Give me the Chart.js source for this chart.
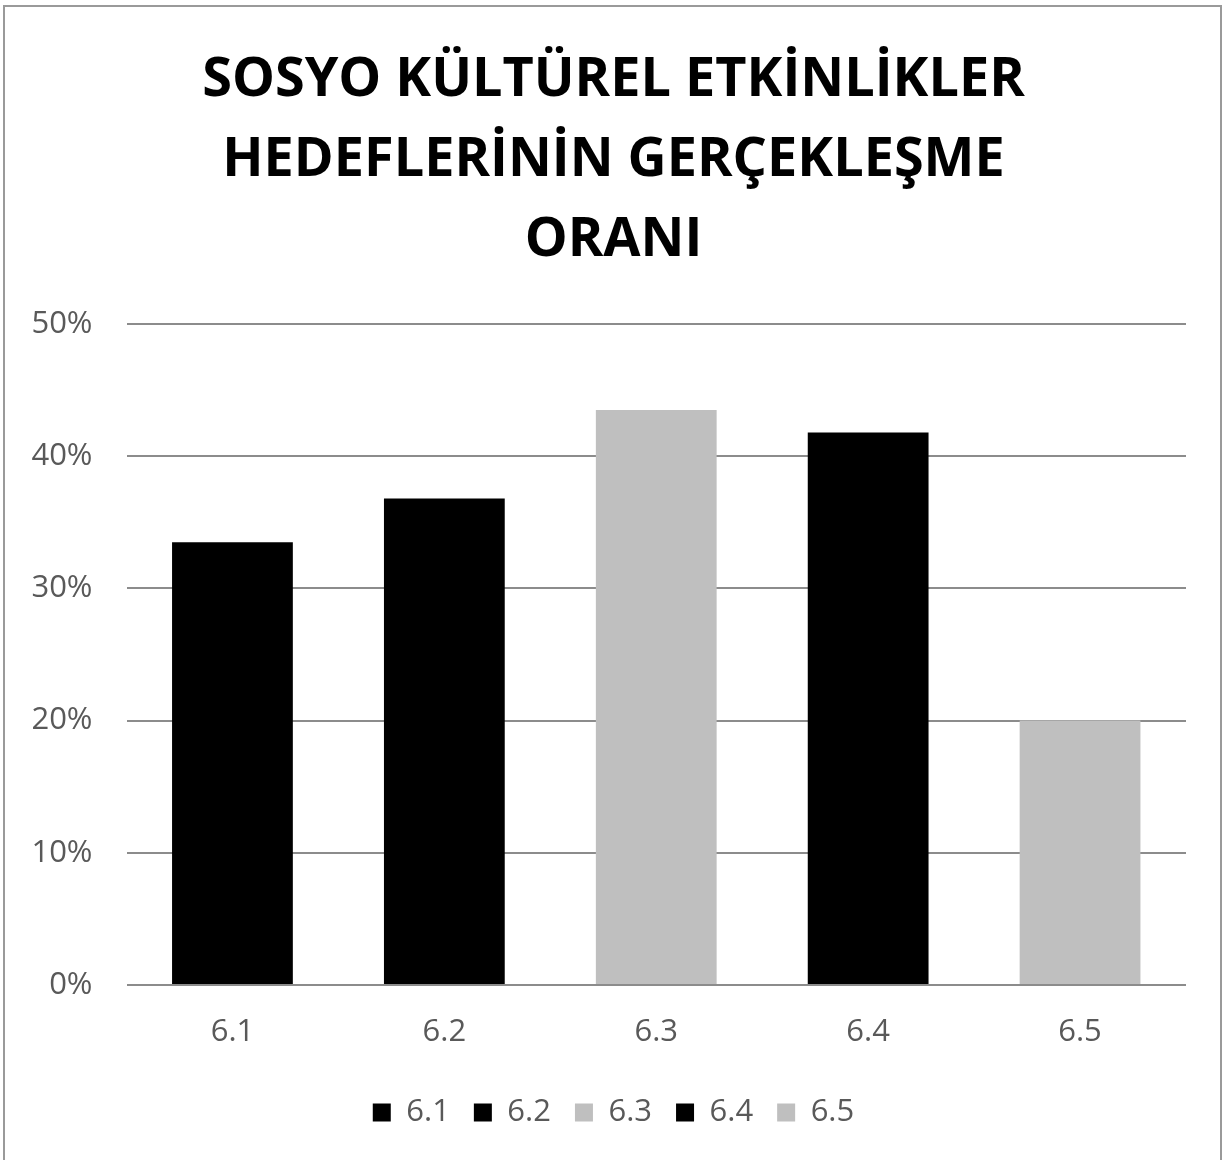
<!DOCTYPE html>
<html>
<head>
<meta charset="utf-8">
<script src="https://cdn.jsdelivr.net/npm/chart.js@4/dist/chart.umd.min.js"></script>
<style>
  html, body { margin: 0; padding: 0; background: #ffffff; }
  #wrap { position: relative; width: 1227px; height: 1160px; overflow: hidden; }
  #frame { position: absolute; left: 3px; top: 5px; width: 1219px; height: 1170px; border: 2px solid #9a9a9a; box-sizing: border-box; pointer-events: none; }
  canvas { position: absolute; left: 0; top: 0; }
</style>
</head>
<body>
<div id="wrap">
  <canvas id="c" width="1227" height="1160"></canvas>
  <div id="frame"></div>
</div>
<script>
const titleLines = ['SOSYO KÜLTÜREL ETKİNLİKLER', 'HEDEFLERİNİN GERÇEKLEŞME', 'ORANI'];
const categories = ['6.1', '6.2', '6.3', '6.4', '6.5'];
const values = [33.5, 36.8, 43.5, 41.8, 20];
const barColors = ['#000000', '#000000', '#BFBFBF', '#000000', '#BFBFBF'];
const yMin = 0, yMax = 50, yStep = 10;

const FONT = "'Open Sans', 'DejaVu Sans', sans-serif";
const TICK_COLOR = '#595959';

new Chart(document.getElementById('c'), {
  type: 'bar',
  data: {
    labels: categories,
    datasets: [{
      data: values,
      backgroundColor: barColors,
      borderWidth: 0,
      barPercentage: 0.57,
      categoryPercentage: 1.0
    }]
  },
  options: {
    responsive: false,
    animation: false,
    devicePixelRatio: 1,
    layout: { padding: { left: 0, right: 0, top: 12, bottom: 22 } },
    plugins: {
      tooltip: { enabled: false },
      title: {
        display: true,
        text: titleLines,
        color: '#000000',
        font: { family: FONT, size: 54, weight: 'bold', lineHeight: 80 / 54 },
        padding: { top: 29, bottom: 43 }
      },
      legend: {
        display: true,
        position: 'bottom',
        labels: {
          color: TICK_COLOR,
          font: { family: FONT, size: 31 },
          boxWidth: 18,
          boxHeight: 18,
          padding: 24,
          generateLabels: (chart) => categories.map((c, i) => ({
            text: c,
            fillStyle: barColors[i],
            strokeStyle: barColors[i],
            lineWidth: 0,
            fontColor: TICK_COLOR,
            hidden: false,
            index: i
          }))
        },
        onClick: () => {}
      }
    },
    scales: {
      x: {
        afterFit: (s) => { s.height = 88; },
        grid: { display: false, drawTicks: false },
        border: { display: false },
        ticks: { color: TICK_COLOR, font: { family: FONT, size: 31 }, padding: 29 }
      },
      y: {
        min: yMin,
        max: yMax,
        afterFit: (s) => { s.width = 126.5; },
        grid: { color: '#8c8c8c', lineWidth: 2, drawTicks: false },
        border: { display: false },
        ticks: {
          stepSize: yStep,
          color: TICK_COLOR,
          font: { family: FONT, size: 31 },
          padding: 34,
          callback: (v) => v + '%'
        }
      },
      yRightSpace: {
        type: 'linear',
        position: 'right',
        display: true,
        afterFit: (s) => { s.width = 41; },
        grid: { display: false, drawTicks: false },
        border: { display: false },
        ticks: { display: false }
      }
    }
  }
});
</script>
</body>
</html>
